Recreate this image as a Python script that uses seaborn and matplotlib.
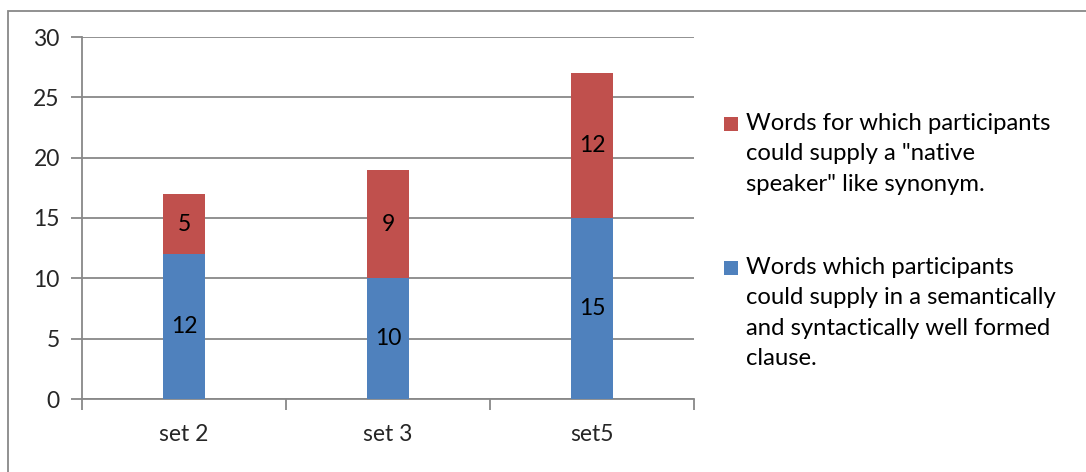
import matplotlib
matplotlib.use("Agg")
import matplotlib.pyplot as plt
from matplotlib.patches import Rectangle
import seaborn as sns
import pandas as pd

# Data
sets = ["set 2", "set 3", "set5"]
clause_words = [12, 10, 15]
synonym_words = [5, 9, 12]
y_ticks = [0, 5, 10, 15, 20, 25, 30]

label_synonym = 'Words for which participants\ncould supply a "native\nspeaker" like synonym.'
label_clause = ('Words which participants\ncould supply in a semantically\n'
                'and syntactically well formed\nclause.')

BLUE = "#4F81BD"
RED = "#C0504D"
GRID = "#888888"

sns.set_theme(style="white")
plt.rcParams["font.family"] = ["Lato", "DejaVu Sans"]

df = pd.DataFrame({"set": sets, "clause": clause_words, "synonym": synonym_words})

W, H = 1086, 472
fig = plt.figure(figsize=(W / 100, H / 100), dpi=100)
ax = fig.add_axes([82 / W, 1 - 399 / H, (694 - 82) / W, (399 - 37) / H])

bar_w = 0.21
sns.barplot(data=df, x="set", y="clause", color=BLUE, width=bar_w,
            saturation=1, ax=ax, linewidth=0, zorder=3)
sns.barplot(data=df, x="set", y="synonym", color=RED, width=bar_w,
            saturation=1, ax=ax, linewidth=0, zorder=3,
            bottom=df["clause"].to_numpy())

# value labels centred in each segment
fs = 16.5
for i, (c, s) in enumerate(zip(clause_words, synonym_words)):
    ax.text(i, c / 2, str(c), ha="center", va="center", fontsize=fs, color="black", zorder=4)
    ax.text(i, c + s / 2, str(s), ha="center", va="center", fontsize=fs, color="black", zorder=4)

ax.set_xlim(-0.5, 2.5)
ax.set_ylim(0, 30)
ax.set_yticks(y_ticks)
ax.set_yticklabels([str(t) for t in y_ticks], fontsize=fs)
ax.set_xticks(range(len(sets)))
ax.set_xticklabels(sets, fontsize=fs)
ax.set_xlabel("")
ax.set_ylabel("")

ax.yaxis.grid(True, color=GRID, linewidth=1.3, zorder=0)
ax.set_axisbelow(True)
for side in ["top", "right"]:
    ax.spines[side].set_visible(False)
for side in ["left", "bottom"]:
    ax.spines[side].set_color(GRID)
    ax.spines[side].set_linewidth(1.3)

ax.tick_params(axis="y", which="both", left=True, length=8, width=1.3, color=GRID, pad=8)
# x ticks at category boundaries
ax.set_xticks([-0.5, 0.5, 1.5, 2.5], minor=True)
ax.tick_params(axis="x", which="major", bottom=False, pad=12)
ax.tick_params(axis="x", which="minor", bottom=True, length=8, width=1.3,
               color=GRID, direction="out")

# outer chart border (left and top visible)
fig.patches.append(Rectangle((8 / W, -0.1), 1.2, 1 - 11 / H + 0.1,
                             transform=fig.transFigure, fill=False,
                             edgecolor=GRID, linewidth=1.3))

# legend
leg_fs = 17.2
def legend_entry(y_marker_top, color, text):
    fig.patches.append(Rectangle((724 / W, 1 - (y_marker_top + 14) / H), 14 / W, 14 / H,
                                 transform=fig.transFigure, facecolor=color, edgecolor="none"))
    fig.text(746 / W, 1 - (y_marker_top - 4) / H, text, ha="left", va="top",
             fontsize=leg_fs, linespacing=1.55, color="black")

legend_entry(117, RED, label_synonym)
legend_entry(261, BLUE, label_clause)

fig.savefig("out.png", dpi=100, facecolor="white")
